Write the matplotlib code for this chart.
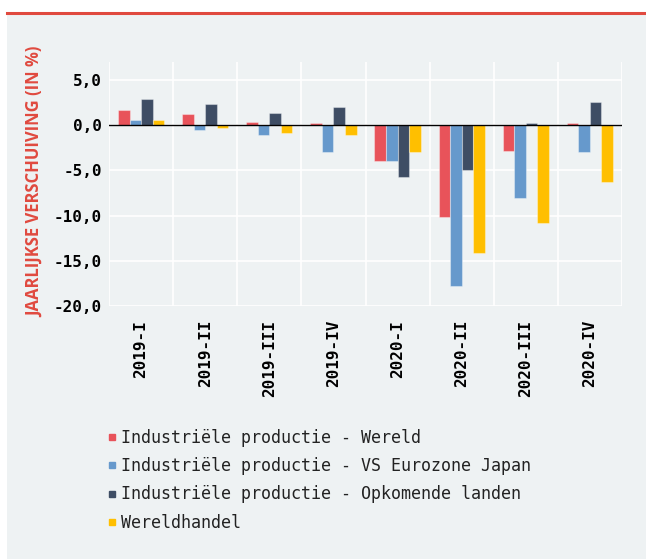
import numpy as np
import matplotlib.pyplot as plt
from matplotlib.lines import Line2D
from matplotlib.patches import Rectangle

quarters = ["2019-I", "2019-II", "2019-III", "2019-IV",
            "2020-I", "2020-II", "2020-III", "2020-IV"]
wereld = [1.7, 1.2, 0.4, 0.3, -4.0, -10.1, -2.8, 0.3]
vs_ez_jp = [0.6, -0.5, -1.1, -3.0, -3.9, -17.8, -8.1, -3.0]
opkomend = [2.9, 2.3, 1.4, 2.0, -5.7, -4.9, 0.2, 2.6]
handel = [0.6, -0.3, -0.9, -1.1, -3.0, -14.1, -10.8, -6.3]

series = [
    ("Industriële productie - Wereld", wereld, "#e8535a"),
    ("Industriële productie - VS Eurozone Japan", vs_ez_jp, "#6699cc"),
    ("Industriële productie - Opkomende landen", opkomend, "#3e4d64"),
    ("Wereldhandel", handel, "#ffbf00"),
]

bg = "#eef2f3"
mono = "DejaVu Sans Mono"

fig = plt.figure(figsize=(6.46, 5.59), dpi=100)
fig.patch.set_facecolor("white")
# panel + red rule on top
fig.patches.append(Rectangle((7 / 646, 0), 1, 1 - 14 / 559, transform=fig.transFigure,
                             facecolor=bg, edgecolor="none", zorder=-2))
fig.add_artist(Line2D([7 / 646, 1], [1 - 12.5 / 559] * 2, color="#e04a3f", lw=2.2))

ax = fig.add_axes([109 / 646, 1 - 306 / 559, 513 / 646, 244 / 559])
ax.set_facecolor(bg)

x = np.arange(len(quarters))
w = 0.18
for i, (name, vals, col) in enumerate(series):
    ax.bar(x + (i - 1.5) * w, vals, w, color=col, edgecolor=(1, 1, 1, 0.35),
           linewidth=0.8, label=name, zorder=3)

ax.axhline(0, color="black", lw=1, zorder=4)
ax.set_xlim(-0.5, len(quarters) - 0.5)
ax.set_ylim(-20, 7)
ax.set_yticks([5, 0, -5, -10, -15, -20])
ax.set_yticklabels([f"{v:.1f}".replace(".", ",") for v in [5, 0, -5, -10, -15, -20]],
                   fontfamily=mono, fontweight="bold", fontsize=11.5)
ax.set_xticks(x)
ax.set_xticklabels(quarters, rotation=90, fontfamily=mono, fontweight="bold", fontsize=11.5,
                   va="top")
ax.set_xticks(np.arange(len(quarters) + 1) - 0.5, minor=True)
ax.grid(True, which="minor", axis="x", color="white", lw=1.2, zorder=0)
ax.grid(True, which="major", axis="y", color="white", lw=1.2, zorder=0)
ax.tick_params(which="both", length=0)
ax.tick_params(axis="x", pad=10)
ax.tick_params(axis="y", pad=5)
for s in ax.spines.values():
    s.set_visible(False)

fig.text(35 / 646, 1 - 181.5 / 559, "JAARLIJKSE VERSCHUIVING (IN %)", rotation=90,
         color="#e04a3f", fontsize=12, fontfamily="Open Sans", fontweight="bold",
         ha="center", va="center")

handles = [Line2D([], [], marker="s", linestyle="none", markersize=5, color=c)
           for _, _, c in series]
leg = fig.legend(handles, [s[0] for s in series], loc="upper left",
                 bbox_to_anchor=(100 / 646, 1 - 422 / 559), frameon=False,
                 prop={"family": mono, "size": 12}, handletextpad=0.25,
                 handlelength=0.6, labelspacing=0.62, borderaxespad=0)
for t in leg.get_texts():
    t.set_color("#222222")

fig.savefig("out.png", dpi=100, facecolor=fig.get_facecolor())
